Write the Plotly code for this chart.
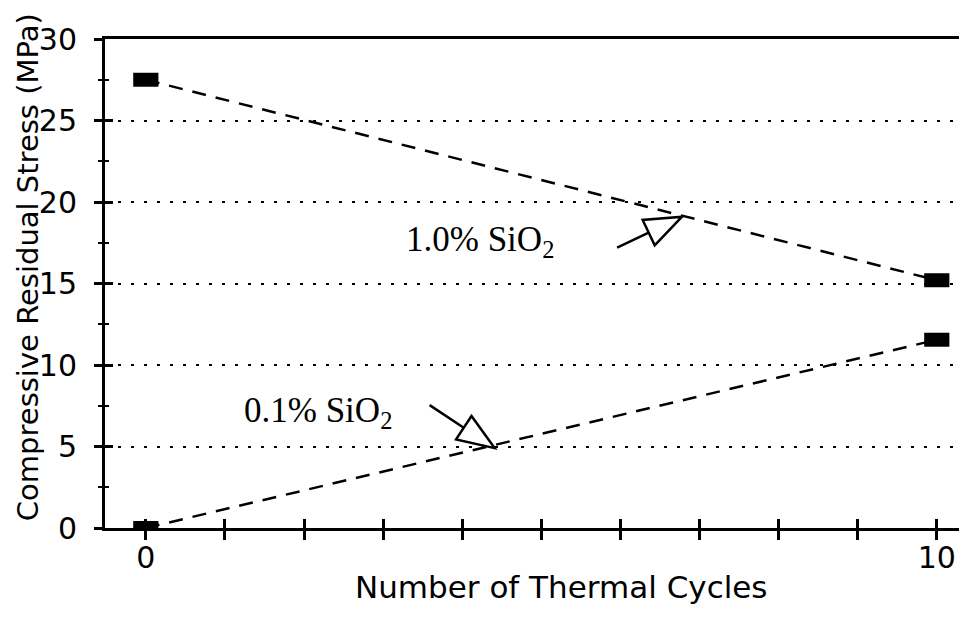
import plotly.graph_objects as go

# ---- data ----
cycles = [0, 10]
stress_10pct = [27.5, 15.2]   # 1.0% SiO2
stress_01pct = [0.0, 11.55]   # 0.1% SiO2
x_tick_vals = list(range(0, 11))
x_tick_text = ["0", "", "", "", "", "", "", "", "", "", "10"]
y_major = [0, 5, 10, 15, 20, 25, 30]
y_minor = [2.5, 7.5, 12.5, 17.5, 22.5, 27.5]

# ---- layout constants (page body has an 8px margin) ----
OFF = 8
W, H = 967 - OFF, 618 - OFF
ML, MR, MT = 105 - OFF, 0, 39 - OFF
PLOT_H = 488.7
MB = H - MT - PLOT_H
XR = [-0.516, 10.382]
YR = [0, 30]
XPX = (W - ML - MR) / (XR[1] - XR[0])
YPX = PLOT_H / (YR[1] - YR[0])

AX_FONT = "DejaVu Sans"
SERIF = "Liberation Serif"

fig = go.Figure()

line_style = dict(color="black", width=2.5, dash="14px,10px")
marker_style = dict(symbol="line-ew", size=18, color="black",
                    line=dict(color="black", width=14))

fig.add_trace(go.Scatter(x=cycles, y=stress_10pct, mode="lines+markers",
                         line=line_style, marker=marker_style,
                         showlegend=False, name="1.0% SiO2"))
fig.add_trace(go.Scatter(x=cycles, y=stress_01pct, mode="lines+markers",
                         line=line_style, marker=marker_style,
                         showlegend=False, name="0.1% SiO2"))
# dummy trace to create overlay axes (for crossing ticks)
fig.add_trace(go.Scatter(x=[], y=[], xaxis="x2", yaxis="y2", showlegend=False))


def arrow_shapes(tip_x, tip_y, tail_dx, tail_dy, head_len=37, head_half=14):
    # tail offsets in pixels (screen: +x right, +y down) relative to tip
    L = (tail_dx ** 2 + tail_dy ** 2) ** 0.5
    ux, uy = -tail_dx / L, -tail_dy / L          # direction tail->tip
    px_, py_ = -uy, ux                            # perpendicular
    def d(dx, dy):
        return tip_x + dx / XPX, tip_y - dy / YPX
    tail = d(tail_dx, tail_dy)
    bm = d(-head_len * ux, -head_len * uy)
    c1 = d(-head_len * ux + head_half * px_, -head_len * uy + head_half * py_)
    c2 = d(-head_len * ux - head_half * px_, -head_len * uy - head_half * py_)
    shaft = dict(type="line", xref="x", yref="y", x0=tail[0], y0=tail[1],
                 x1=bm[0], y1=bm[1], line=dict(color="black", width=2.5),
                 layer="above")
    path = "M {} {} L {} {} L {} {} Z".format(tip_x, tip_y, c1[0], c1[1], c2[0], c2[1])
    head = dict(type="path", xref="x", yref="y", path=path, fillcolor="white",
                line=dict(color="black", width=2.5), layer="above")
    return [shaft, head]


shapes = arrow_shapes(6.78, 19.1, -65, 31) + arrow_shapes(4.41, 4.9, -65, -43)

annotations = [
    dict(text="1.0% SiO<sub>2</sub>", x=3.27, y=17.6, xref="x", yref="y",
         xanchor="left", yanchor="middle", showarrow=False,
         font=dict(family=SERIF, size=35, color="black")),
    dict(text="0.1% SiO<sub>2</sub>", x=1.22, y=7.1, xref="x", yref="y",
         xanchor="left", yanchor="middle", showarrow=False,
         font=dict(family=SERIF, size=35, color="black")),
    dict(text="Number of Thermal Cycles", x=(561 - OFF - ML) / (W - ML - MR),
         y=(H - MB - (587 - OFF)) / PLOT_H, xref="paper", yref="paper",
         xanchor="center", yanchor="middle", showarrow=False,
         font=dict(family=AX_FONT, size=31, color="black")),
    dict(text="Compressive Residual Stress (MPa)", textangle=-90,
         x=(28 - OFF - ML) / (W - ML - MR), y=(H - MB - (267 - OFF)) / PLOT_H,
         xref="paper", yref="paper", xanchor="center", yanchor="middle",
         showarrow=False, font=dict(family=AX_FONT, size=29, color="black")),
]

fig.update_layout(
    width=W, height=H,
    margin=dict(l=ML, r=MR, t=MT, b=MB, pad=0),
    paper_bgcolor="white", plot_bgcolor="white",
    showlegend=False,
    shapes=shapes,
    annotations=annotations,
    xaxis=dict(range=XR, showline=True, linecolor="black", linewidth=3,
               mirror=True, showgrid=False, zeroline=False,
               tickmode="array", tickvals=x_tick_vals, ticktext=x_tick_text,
               ticks="outside", ticklen=9, tickwidth=2.5, tickcolor="black",
               ticklabelstandoff=-8,
               tickfont=dict(family=AX_FONT, size=30, color="black")),
    yaxis=dict(range=YR, showline=True, linecolor="black", linewidth=3,
               mirror=False, zeroline=False,
               showgrid=True, gridcolor="black", gridwidth=2, griddash="3px,10px",
               tickmode="array", tickvals=y_major,
               ticks="outside", ticklen=8, tickwidth=2.5, tickcolor="black",
               minor=dict(tickmode="array", tickvals=y_minor, ticks="outside",
                          ticklen=4, tickwidth=2, tickcolor="black", showgrid=False),
               ticklabelstandoff=11,
               tickfont=dict(family=AX_FONT, size=30, color="black")),
    xaxis2=dict(range=XR, overlaying="x", anchor="y2", side="bottom",
                showline=False, showgrid=False, zeroline=False,
                tickmode="array", tickvals=x_tick_vals, showticklabels=False,
                ticks="inside", ticklen=9, tickwidth=2.5, tickcolor="black"),
    yaxis2=dict(range=YR, overlaying="y", anchor="x2", side="left",
                showline=False, showgrid=False, zeroline=False,
                tickmode="array", tickvals=y_major, showticklabels=False,
                ticks="inside", ticklen=8, tickwidth=2.5, tickcolor="black",
                minor=dict(tickmode="array", tickvals=y_minor, ticks="inside",
                           ticklen=4, tickwidth=2, tickcolor="black", showgrid=False)),
)

fig.write_html("out.html")
